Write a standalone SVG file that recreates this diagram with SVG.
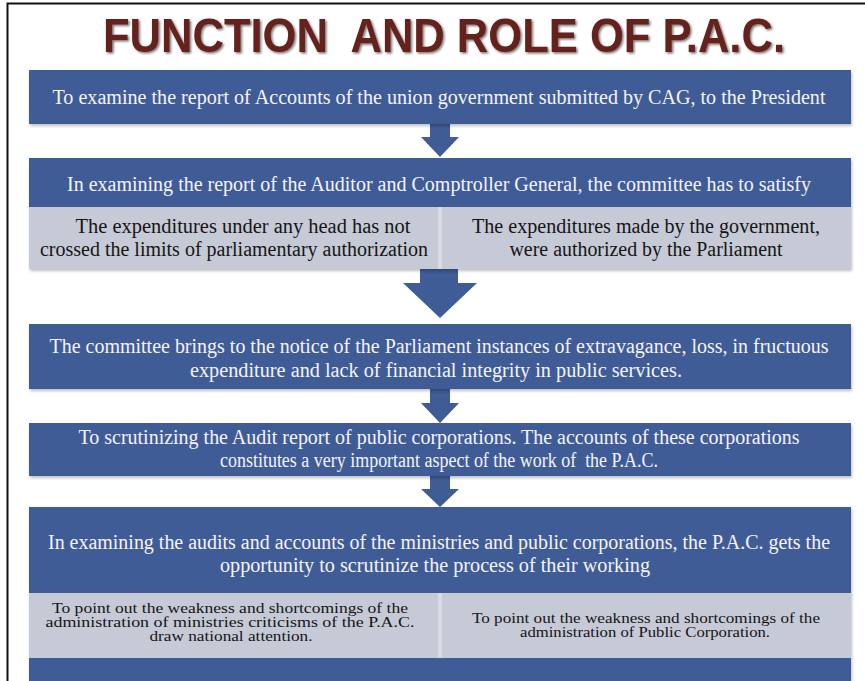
<svg xmlns="http://www.w3.org/2000/svg" width="865" height="681" viewBox="0 0 865 681">
<defs>
<filter id="sh" x="-5%" y="-20%" width="110%" height="150%">
<feDropShadow dx="1" dy="2" stdDeviation="1.5" flood-color="#000" flood-opacity="0.25"/>
</filter>
<filter id="tsh" x="-5%" y="-20%" width="110%" height="150%">
<feDropShadow dx="1.5" dy="1.5" stdDeviation="0.8" flood-color="#000" flood-opacity="0.55"/>
</filter>
</defs>
<style>
.dark{fill:#405c96;filter:url(#sh);}
.gray{fill:#c6cad7;}
.div{fill:#d8dbe4;}
.wt{font-family:"Liberation Serif","Times New Roman",serif;font-size:20px;fill:#f4f4f8;text-anchor:middle;}
.bt{font-family:"Liberation Serif","Times New Roman",serif;font-size:20px;fill:#151515;text-anchor:middle;}
.st{font-family:"Liberation Serif","Times New Roman",serif;font-size:15px;fill:#151515;text-anchor:middle;}
.arr{fill:#405c96;}
.title{font-family:"Liberation Sans",Arial,sans-serif;font-weight:bold;font-size:48px;fill:#65201b;text-anchor:middle;filter:url(#tsh);}
</style>
<rect x="0" y="0" width="865" height="681" fill="#ffffff"/>
<path d="M7.5 681 V3.5 H865" fill="none" stroke="#111" stroke-width="2"/>

<g id="title">
<text class="title" x="444" y="52" textLength="682" lengthAdjust="spacingAndGlyphs" xml:space="preserve">FUNCTION  AND ROLE OF P.A.C.</text>
</g>

<g id="connectors">
<polygon class="arr" points="430,124 450,124 450,137 459,137 440,157 421,137 430,137"/>
<polygon class="arr" points="420,269 458,269 458,283 477,283 440,318 403,283 420,283"/>
<polygon class="arr" points="430,389 450,389 450,403 459,403 440,423 421,403 430,403"/>
<polygon class="arr" points="430,476 450,476 450,489 459,489 440,507 421,489 430,489"/>
</g>

<g id="node1">
<rect class="dark" x="29" y="70" width="822" height="54"/>
<text class="wt" x="439" y="104" textLength="773" lengthAdjust="spacingAndGlyphs">To examine the report of Accounts of the union government submitted by CAG, to the President</text>
</g>

<g id="node2">
<rect class="dark" x="29" y="158" width="822" height="111"/>
<text class="wt" x="439" y="191" textLength="744" lengthAdjust="spacingAndGlyphs">In examining the report of the Auditor and Comptroller General, the committee has to satisfy</text>
<rect class="div" x="438" y="207" width="4" height="62"/>
<rect class="gray" x="29" y="207" width="409" height="62"/>
<rect class="gray" x="442" y="207" width="409" height="62"/>
<text class="bt" x="243" y="233" textLength="335" lengthAdjust="spacingAndGlyphs">The expenditures under any head has not</text>
<text class="bt" x="234" y="256" textLength="388" lengthAdjust="spacingAndGlyphs">crossed the limits of parliamentary authorization</text>
<text class="bt" x="646" y="233" textLength="348" lengthAdjust="spacingAndGlyphs">The expenditures made by the government,</text>
<text class="bt" x="646" y="256" textLength="273" lengthAdjust="spacingAndGlyphs">were authorized by the Parliament</text>
</g>

<g id="node3">
<rect class="dark" x="29" y="324" width="822" height="65"/>
<text class="wt" x="439" y="353" textLength="779" lengthAdjust="spacingAndGlyphs">The committee brings to the notice of the Parliament instances of extravagance, loss, in fructuous</text>
<text class="wt" x="436" y="377" textLength="492" lengthAdjust="spacingAndGlyphs">expenditure and lack of financial integrity in public services.</text>
</g>

<g id="node4">
<rect class="dark" x="29" y="423" width="822" height="53"/>
<text class="wt" x="439" y="444" textLength="721" lengthAdjust="spacingAndGlyphs">To scrutinizing the Audit report of public corporations. The accounts of these corporations</text>
<text class="wt" x="439" y="467" textLength="438" lengthAdjust="spacingAndGlyphs" xml:space="preserve">constitutes a very important aspect of the work of  the P.A.C.</text>
</g>

<g id="node5">
<rect class="dark" x="29" y="507" width="822" height="174"/>
<text class="wt" x="439" y="549" textLength="782" lengthAdjust="spacingAndGlyphs">In examining the audits and accounts of the ministries and public corporations, the P.A.C. gets the</text>
<text class="wt" x="435" y="572" textLength="430" lengthAdjust="spacingAndGlyphs">opportunity to scrutinize the process of their working</text>
<rect class="div" x="438" y="593" width="4" height="65"/>
<rect class="gray" x="29" y="593" width="409" height="65"/>
<rect class="gray" x="442" y="593" width="409" height="65"/>
<text class="st" x="230" y="613" textLength="356" lengthAdjust="spacingAndGlyphs">To point out the weakness and shortcomings of the</text>
<text class="st" x="230" y="627" textLength="369" lengthAdjust="spacingAndGlyphs">administration of ministries criticisms of the P.A.C.</text>
<text class="st" x="231" y="641" textLength="163" lengthAdjust="spacingAndGlyphs">draw national attention.</text>
<text class="st" x="646" y="623" textLength="348" lengthAdjust="spacingAndGlyphs">To point out the weakness and shortcomings of the</text>
<text class="st" x="645" y="637" textLength="250" lengthAdjust="spacingAndGlyphs">administration of Public Corporation.</text>
</g>
</svg>
